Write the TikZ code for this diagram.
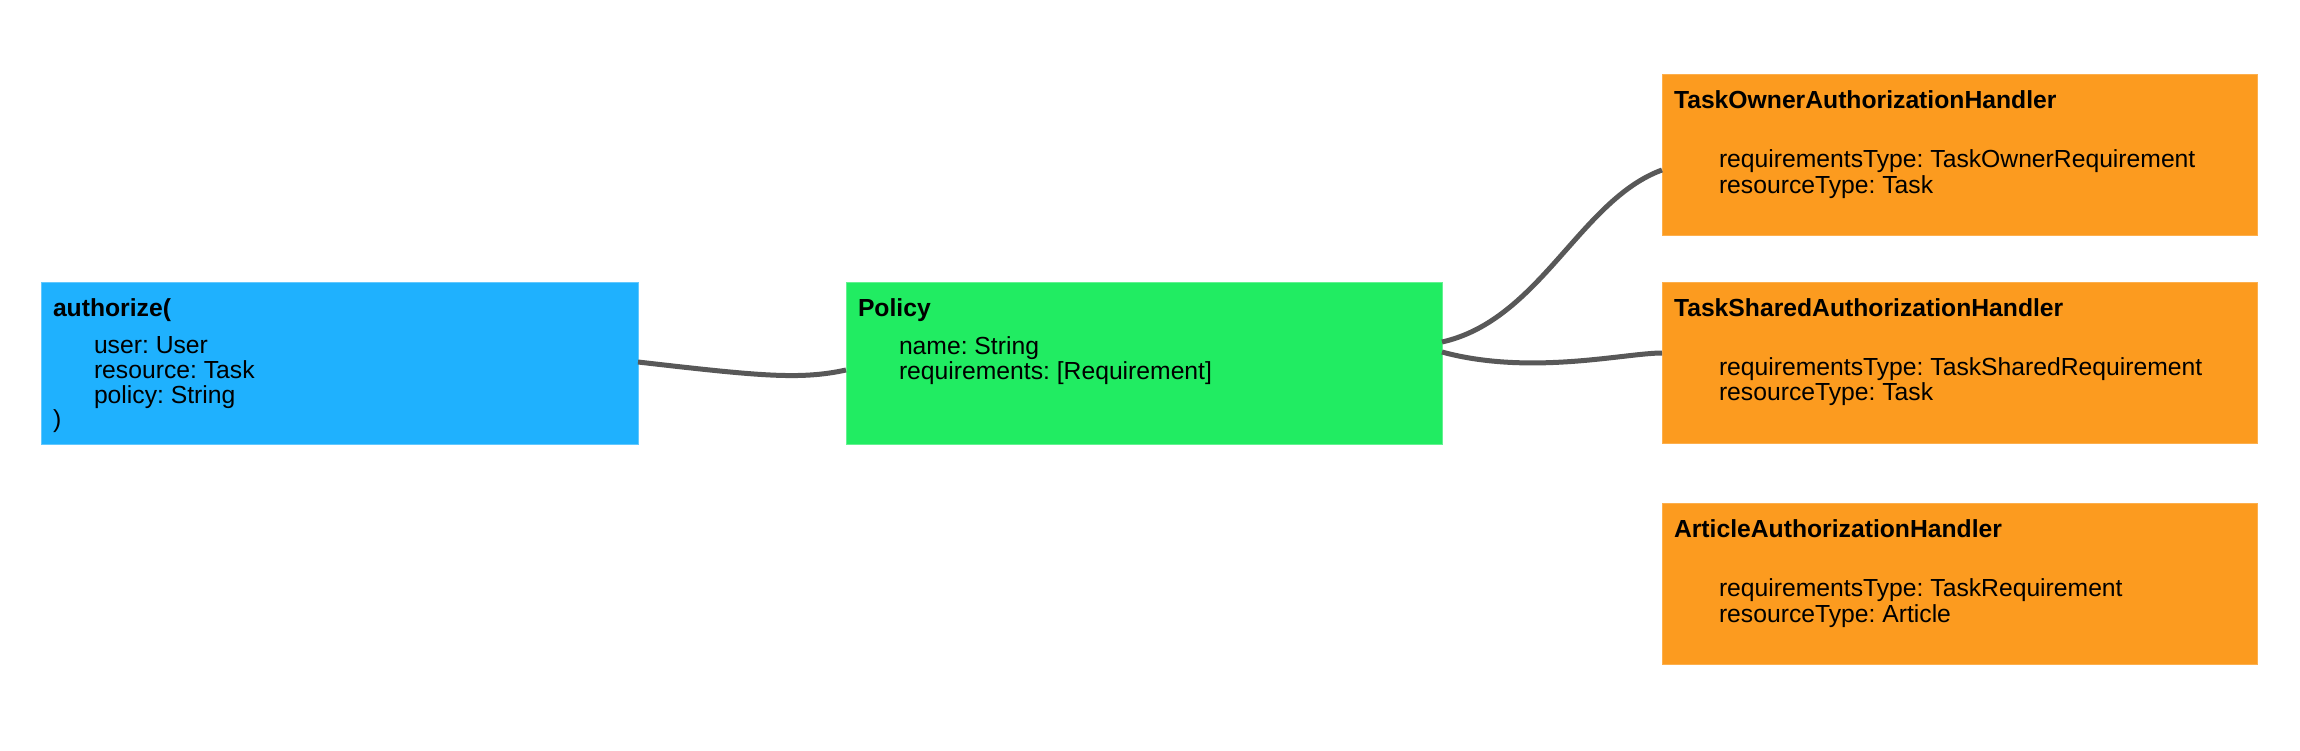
\documentclass[tikz,border=0pt]{standalone}
\usepackage{fontspec}
\setmainfont{Liberation Sans}
\usetikzlibrary{calc}
\definecolor{blueC}{RGB}{31,177,254}
\definecolor{greenC}{RGB}{33,236,98}
\definecolor{orangeC}{RGB}{252,155,31}
\definecolor{linkC}{RGB}{88,88,88}
\tikzset{
  box/.style={anchor=north west, inner sep=0pt, outer sep=0pt, minimum width=#1, line width=1pt},
  blbox/.style={box=597pt, minimum height=162pt, fill=blueC, draw=blueC!70!white},
  grbox/.style={box=596pt, minimum height=162pt, fill=greenC, draw=greenC!70!white},
  orbox/.style={box=595pt, minimum height=161pt, fill=orangeC, draw=orangeC!80!white},
  txt/.style={anchor=base west, inner sep=0pt, outer sep=0pt, font=\fontsize{24.7}{26}\selectfont\frenchspacing},
  ttl/.style={txt, font=\fontsize{24.7}{26}\selectfont\bfseries\frenchspacing},
  link/.style={draw=linkC, line width=5pt}
}
\begin{document}
\frenchspacing
\begin{tikzpicture}[x=1pt, y=-1pt]
\useasboundingbox (0,0) rectangle (2300,750);
% boxes
\node[blbox] (auth) at (41,282) {};
\node[grbox] (pol) at (846,282) {};
\node[orbox] (own) at (1662,74) {};
\node[orbox] (shr) at (1662,282) {};
\node[orbox] (art) at (1662,503) {};
% authorize text
\node[ttl] (authT) at (53,316.7) {authorize(};
\node[txt] (authA) at (94,353.3) {user: User};
\node[txt] (authB) at (94,378.6) {resource: Task};
\node[txt] (authC) at (94,403.9) {policy: String};
\node[txt] (authD) at (53,427.5) {)};
% policy text
\node[ttl] (polT) at (858,316.5) {Policy};
\node[txt] (polA) at (899,354) {name: String};
\node[txt] (polB) at (899,379.5) {requirements: [Requirement]};
% handler texts
\node[ttl] (ownT) at (1674,108) {TaskOwnerAuthorizationHandler};
\node[txt] (ownA) at (1719,167.7) {requirementsType: TaskOwnerRequirement};
\node[txt] (ownB) at (1719,193.3) {resourceType: Task};
\node[ttl] (shrT) at (1674,316) {TaskSharedAuthorizationHandler};
\node[txt] (shrA) at (1719,375) {requirementsType: TaskSharedRequirement};
\node[txt] (shrB) at (1719,400.5) {resourceType: Task};
\node[ttl] (artT) at (1674,537.5) {ArticleAuthorizationHandler};
\node[txt] (artA) at (1719,596.5) {requirementsType: TaskRequirement};
\node[txt] (artB) at (1719,622) {resourceType: Article};
% links
\draw[link] ($(auth.east)+(0,-1)$) .. controls +(122,14) and +(-46,10) .. ($(pol.west)+(0,7)$);
\draw[link] ($(pol.east)+(0,-21)$) .. controls +(98,-22) and +(-82,30) .. ($(own.west)+(0,15.5)$);
\draw[link] ($(pol.east)+(0,-11)$) .. controls +(88,24) and +(-37,0) .. ($(shr.west)+(0,-9.5)$);
\end{tikzpicture}
\end{document}
